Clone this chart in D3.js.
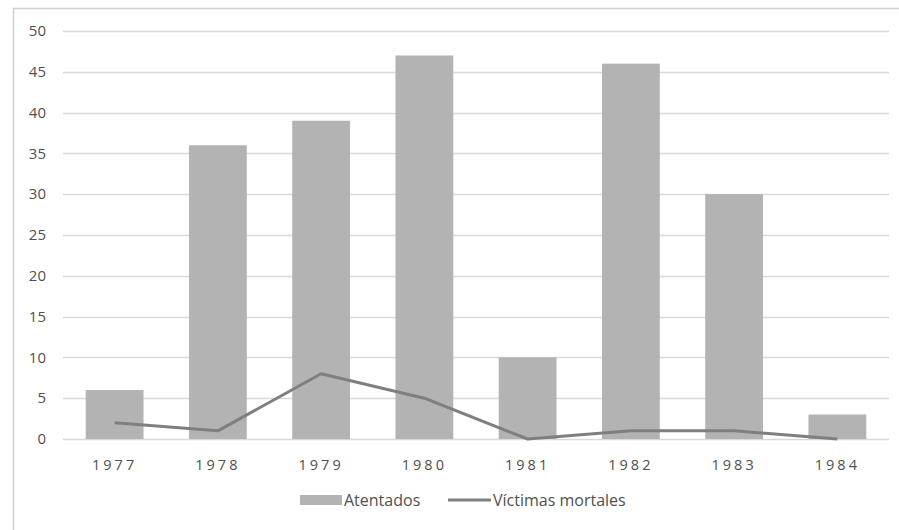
<!DOCTYPE html>
<html><head><meta charset="utf-8">
<script src="https://cdn.jsdelivr.net/npm/d3@7"></script>
<style>body{margin:0;background:#fff}svg{display:block}</style>
</head><body>
<script>
const years = ["1977","1978","1979","1980","1981","1982","1983","1984"];
const atentados = [6,36,39,47,10,46,30,3];
const victimas = [2,1,8,5,0,1,1,0];
const yTicks = [0,5,10,15,20,25,30,35,40,45,50];

const W=899,H=530;
const svg=d3.select("body").append("svg").attr("width",W).attr("height",H);
const font="'Open Sans', 'Liberation Sans', sans-serif";
// border
svg.append("rect").attr("x",13.5).attr("y",8.5).attr("width",W+20).attr("height",H+20)
  .attr("fill","none").attr("stroke","#d0d0d0").attr("stroke-width",1.5);

const x=d3.scaleBand().domain(years).range([63,889]).paddingInner(0.44).paddingOuter(0.22);
const y=d3.scaleLinear().domain([0,50]).range([439,31]);

const g=svg.append("g");
g.selectAll(".grid").data(yTicks).join("line")
  .attr("x1",63).attr("x2",889).attr("y1",d=>Math.round(y(d))+0.5).attr("y2",d=>Math.round(y(d))+0.5)
  .attr("stroke","#d9d9d9").attr("stroke-width",1.5);

g.selectAll(".ylab").data(yTicks).join("text")
  .attr("x",46).attr("y",d=>y(d)).attr("dy","0.35em").attr("text-anchor","end")
  .attr("font-family",font).attr("font-size",15).attr("fill","#505050").text(d=>d);

g.selectAll(".bar").data(years).join("rect")
  .attr("x",d=>x(d)).attr("width",x.bandwidth())
  .attr("y",(d,i)=>y(atentados[i])).attr("height",(d,i)=>y(0)-y(atentados[i]))
  .attr("fill","#b3b3b3");

const line=d3.line().x((d,i)=>x(years[i])+x.bandwidth()/2).y(d=>y(d));
g.append("path").datum(victimas).attr("d",line).attr("fill","none")
  .attr("stroke","#7f7f7f").attr("stroke-width",3).attr("stroke-linejoin","round");

g.selectAll(".xlab").data(years).join("text")
  .attr("x",d=>x(d)+x.bandwidth()/2).attr("y",465).attr("dy","0.35em").attr("text-anchor","middle")
  .attr("font-family",font).attr("font-size",14.5).attr("letter-spacing","3px").attr("fill","#505050").text(d=>d);

// legend
const lg=svg.append("g");
lg.append("rect").attr("x",300).attr("y",495).attr("width",42).attr("height",10).attr("fill","#b3b3b3");
lg.append("text").attr("x",344).attr("y",500).attr("dy","0.35em").attr("font-family",font)
  .attr("font-size",16).attr("fill","#505050").text("Atentados");
lg.append("line").attr("x1",448).attr("x2",491).attr("y1",500).attr("y2",500).attr("stroke","#7f7f7f").attr("stroke-width",3);
lg.append("text").attr("x",493).attr("y",500).attr("dy","0.35em").attr("font-family",font)
  .attr("font-size",16).attr("fill","#505050").text("Víctimas mortales");
</script>
</body></html>
